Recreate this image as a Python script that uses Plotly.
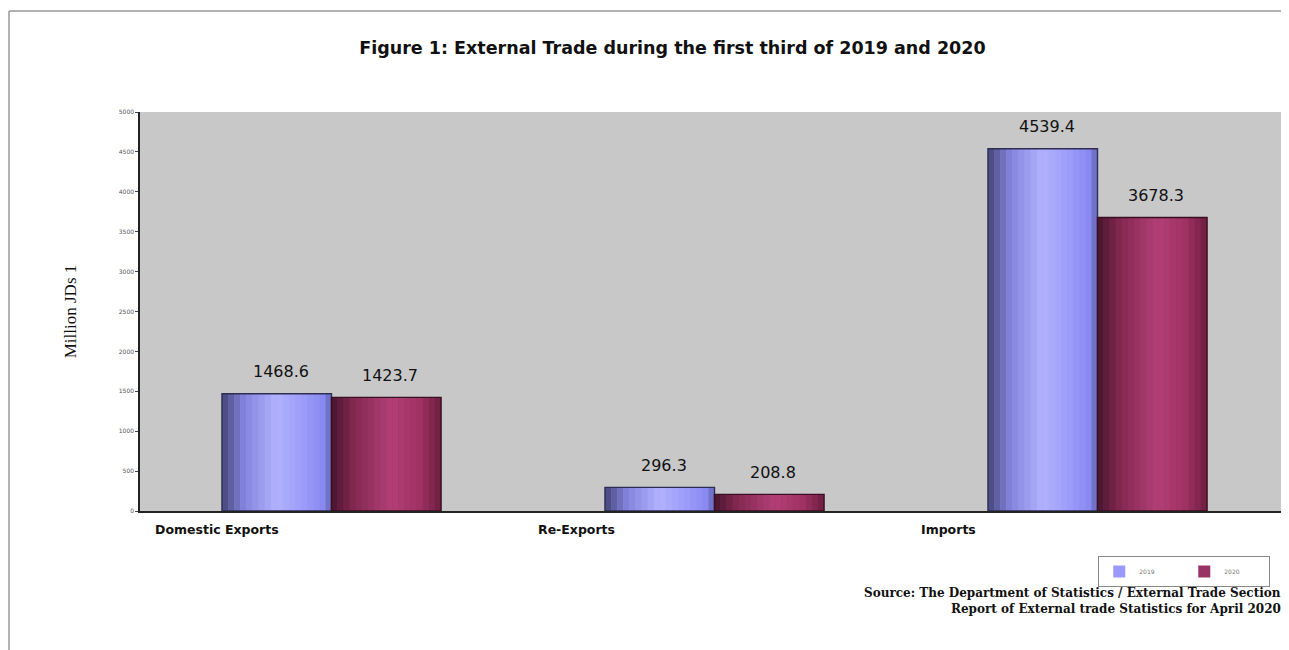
import plotly.graph_objects as go

categories = ["Domestic Exports", "Re-Exports", "Imports"]
years = ["2019", "2020"]
values_2019 = [1468.6, 296.3, 4539.4]
values_2020 = [1423.7, 208.8, 3678.3]
y_ticks = [0, 500, 1000, 1500, 2000, 2500, 3000, 3500, 4000, 4500, 5000]

series = [
    ("2019", values_2019, "#9999ff", "#2e2e55",
     [(0.0, (70, 70, 120)), (0.2, (130, 130, 220)), (0.5, (178, 178, 255)), (0.75, (155, 155, 250)), (0.94, (135, 135, 240)), (1.0, (95, 95, 170))]),
    ("2020", values_2020, "#993366", "#3a0f22",
     [(0.0, (70, 20, 45)), (0.2, (130, 40, 80)), (0.55, (178, 64, 118)), (0.8, (160, 50, 100)), (1.0, (110, 30, 65))]),
]

def grad(stops, t):
    for (t0, c0), (t1, c1) in zip(stops[:-1], stops[1:]):
        if t0 <= t <= t1:
            f = (t - t0) / (t1 - t0) if t1 > t0 else 0
            return "rgb(%d,%d,%d)" % tuple(round(a + (b - a) * f) for a, b in zip(c0, c1))
    return "rgb(%d,%d,%d)" % stops[-1][1]

x_idx = list(range(len(categories)))
bar_w = 0.286
n_slices = 18

fig = go.Figure()
for s, (name, vals, base, edge, stops) in enumerate(series):
    start = -bar_w + s * bar_w
    fig.add_trace(go.Bar(x=x_idx, y=vals, name=name, width=bar_w, offset=start,
                         marker=dict(color=base, line=dict(width=0)), showlegend=True))
    sw = bar_w / n_slices
    for k in range(n_slices):
        fig.add_trace(go.Bar(x=x_idx, y=vals, width=sw * 1.02, offset=start + k * sw,
                             marker=dict(color=grad(stops, (k + 0.5) / n_slices), line=dict(width=0)),
                             showlegend=False, hoverinfo="skip"))
    fig.add_trace(go.Bar(x=x_idx, y=vals, width=bar_w, offset=start,
                         marker=dict(color="rgba(0,0,0,0)", line=dict(color=edge, width=1.4)),
                         showlegend=False, hoverinfo="skip"))
    for i, v in enumerate(vals):
        fig.add_annotation(x=i + start + bar_w / 2, y=v, text=f"{v:.1f}", showarrow=False,
                           yanchor="middle", yshift=22, xshift=4,
                           font=dict(family="DejaVu Sans", size=16, color="#111"))

for i, c in enumerate(categories):
    fig.add_annotation(x=i - 0.465, y=0, text=f"<b>{c}</b>", showarrow=False, xanchor="left",
                       yanchor="top", yshift=-9,
                       font=dict(family="DejaVu Sans", size=12.5, color="#111"))

src_font = dict(family="DejaVu Serif", size=12, color="#111")
fig.add_annotation(xref="paper", yref="paper", x=0.9948, y=-0.206, xanchor="right", yanchor="middle",
                   text="<b>Source: The Department of Statistics / External Trade Section</b>", showarrow=False,
                   font=src_font)
fig.add_annotation(xref="paper", yref="paper", x=0.9948, y=-0.246, xanchor="right", yanchor="middle",
                   text="<b>Report of External trade Statistics for April 2020</b>", showarrow=False,
                   font=src_font)

# outer frame
fig.add_shape(type="line", xref="paper", yref="paper", x0=-0.114, x1=1.0, y0=1.253, y1=1.253,
              line=dict(color="#999", width=1.5))
fig.add_shape(type="line", xref="paper", yref="paper", x0=-0.114, x1=-0.114, y0=1.253, y1=-0.35,
              line=dict(color="#999", width=1.5))

fig.update_layout(
    width=1281, height=642,
    barmode="overlay",
    paper_bgcolor="white", plot_bgcolor="#c8c8c8",
    margin=dict(l=132, r=0, t=104, b=139),
    title=dict(text="<b>Figure 1: External Trade during the first third of 2019 and 2020</b>",
               x=0.5187, xanchor="center", y=0.9377, yanchor="middle",
               font=dict(family="DejaVu Sans", size=17.5, color="#111")),
    xaxis=dict(range=[-0.5, 2.5], showticklabels=False, showgrid=False, zeroline=False,
               showline=True, linecolor="#222", linewidth=1.5, ticks=""),
    yaxis=dict(range=[0, 5000], tickvals=y_ticks, ticktext=[str(t) for t in y_ticks],
               showgrid=False, zeroline=False, showline=True, linecolor="#222", linewidth=1.5,
               ticks="outside", ticklen=3, tickcolor="#444",
               tickfont=dict(family="DejaVu Sans", size=6, color="#555"),
               title=dict(text="Million JDs 1", standoff=38,
                          font=dict(family="Liberation Serif, Times New Roman", size=17, color="#111"))),
    legend=dict(orientation="h", x=0.834, y=-0.113, xanchor="left", yanchor="top",
                bordercolor="#888", borderwidth=1, bgcolor="white",
                font=dict(family="DejaVu Sans", size=6, color="#777"),
                entrywidth=40, itemwidth=30, tracegroupgap=0),
    showlegend=True,
)

fig.write_html("out.html")
